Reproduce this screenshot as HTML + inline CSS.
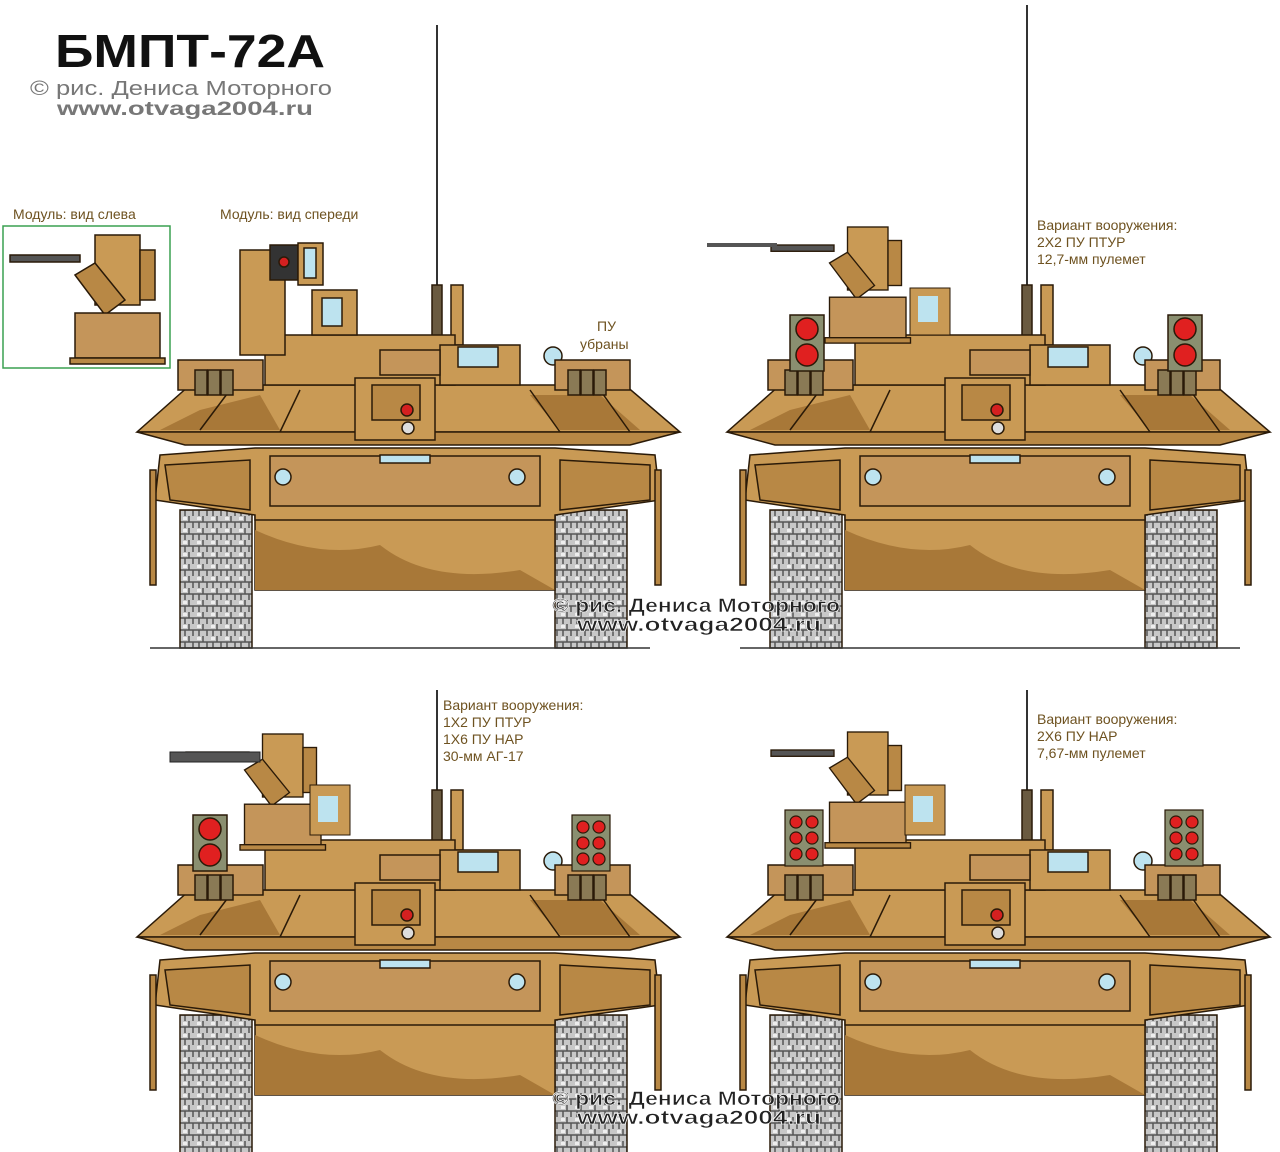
<!DOCTYPE html>
<html><head><meta charset="utf-8"><style>
html,body{margin:0;padding:0;background:#fff;}
svg{display:block;}
.lab{font-family:"Liberation Sans","DejaVu Sans",sans-serif;fill:#6e5220;font-size:14px;}
.wm{font-family:"Liberation Sans",sans-serif;font-weight:bold;font-size:19px;fill:#222;stroke:#fff;stroke-width:0.6;}
</style></head><body>
<svg width="1280" height="1152" viewBox="0 0 1280 1152" xmlns="http://www.w3.org/2000/svg">
<defs>
<pattern id="trk" width="14" height="12" patternUnits="userSpaceOnUse">
<rect width="14" height="12" fill="#c8c8c8"/>
<path d="M0 6H14M7 0V6M3 6V12M11 6V12" stroke="#555" stroke-width="1.5"/>
<rect x="1" y="1" width="4" height="3" fill="#eee"/>
</pattern>
<g id="tank" stroke="#2a1a08" stroke-width="1.5">
<rect x="432" y="285" width="10" height="75" fill="#6a5a40"/>
<rect x="451" y="285" width="12" height="60" fill="#c99a55"/>
<rect x="180" y="510" width="72" height="138" fill="url(#trk)"/>
<rect x="555" y="510" width="72" height="138" fill="url(#trk)"/>
<line x1="150" y1="648" x2="650" y2="648" stroke="#333"/>
<rect x="255" y="500" width="300" height="90" fill="#c99a55"/>
<path d="M255 530 Q320 560 380 545 Q430 585 520 570 L555 590 L255 590Z" fill="#a87838" stroke="none"/>
<path d="M160 455 L255 448 L555 448 L655 455 L660 500 L555 515 L555 520 L255 520 L255 515 L155 500Z" fill="#c99a55"/>
<path d="M165 465 L250 460 L250 510 L170 500Z M560 460 L650 465 L650 500 L560 510Z" fill="#b88845"/>
<rect x="270" y="456" width="270" height="50" fill="#c4955a"/>
<circle cx="283" cy="477" r="8" fill="#bde3ef"/><circle cx="517" cy="477" r="8" fill="#bde3ef"/>
<rect x="150" y="470" width="6" height="115" fill="#b88845"/><rect x="655" y="470" width="6" height="115" fill="#b88845"/>
<rect x="380" y="455" width="50" height="8" fill="#bde3ef"/>
<path d="M190 385 L625 385 L680 432 L137 432Z" fill="#c99a55"/>
<path d="M137 432 L680 432 L630 445 L185 445Z" fill="#b88845"/>
<path d="M530 395 L600 395 L640 430 L560 430Z M200 410 L260 395 L280 430 L160 430Z" fill="#a87838" stroke="none"/>
<path d="M200 430 L230 390 M280 432 L300 390 M530 390 L560 432 M600 390 L630 432" stroke="#2a1a08"/>
<rect x="265" y="335" width="190" height="50" fill="#c99a55"/>
<rect x="440" y="345" width="80" height="40" fill="#c99a55"/>
<rect x="458" y="347" width="40" height="20" fill="#bde3ef"/>
<circle cx="553" cy="356" r="9" fill="#bde3ef"/>
<rect x="380" y="350" width="60" height="25" fill="#c4955a"/>
<rect x="355" y="378" width="80" height="62" fill="#c99a55"/>
<rect x="372" y="385" width="48" height="35" fill="#b88845"/>
<circle cx="407" cy="410" r="6" fill="#d42020"/>
<circle cx="408" cy="428" r="6" fill="#ddd"/>
<rect x="178" y="360" width="85" height="30" fill="#c4955a"/>
<rect x="555" y="360" width="75" height="30" fill="#c4955a"/>
<g fill="#8a7a55"><rect x="195" y="370" width="12" height="25"/><rect x="208" y="370" width="12" height="25"/><rect x="221" y="370" width="12" height="25"/><rect x="568" y="370" width="12" height="25"/><rect x="581" y="370" width="12" height="25"/><rect x="594" y="370" width="12" height="25"/></g>
</g>
<g id="mod" stroke="#2a1a08" stroke-width="1.5">
<rect x="-60" y="0" width="70" height="7" fill="#555"/>
<rect x="25" y="-20" width="45" height="70" fill="#c99a55"/>
<rect x="70" y="-5" width="15" height="50" fill="#b88845"/>
<path d="M5 20 L35 60 L55 45 L25 8Z" fill="#b88845"/>
<rect x="5" y="58" width="85" height="45" fill="#c4955a"/>
<rect x="0" y="103" width="95" height="6" fill="#b88845"/>
</g>
<g id="ptur" stroke="#2a1a08" stroke-width="1.5"><rect x="0" y="0" width="34" height="56" fill="#8a8f70"/><circle cx="17" cy="14" r="11" fill="#e02020"/><circle cx="17" cy="40" r="11" fill="#e02020"/></g>
<g id="nar" stroke="#2a1a08" stroke-width="1.2"><rect x="0" y="0" width="38" height="56" fill="#8a8f70"/><g fill="#e02020"><circle cx="11" cy="12" r="6"/><circle cx="27" cy="12" r="6"/><circle cx="11" cy="28" r="6"/><circle cx="27" cy="28" r="6"/><circle cx="11" cy="44" r="6"/><circle cx="27" cy="44" r="6"/></g></g>
</defs>

<text x="55" y="67" font-family="Liberation Sans,sans-serif" font-size="46" font-weight="bold" fill="#111" textLength="270" lengthAdjust="spacingAndGlyphs">БМПТ-72А</text>
<text x="30" y="95" font-family="Liberation Sans,sans-serif" font-size="20" fill="#777" textLength="302" lengthAdjust="spacingAndGlyphs">© рис. Дениса Моторного</text>
<text x="57" y="115" font-family="Liberation Sans,sans-serif" font-size="19" font-weight="bold" fill="#777" textLength="256" lengthAdjust="spacingAndGlyphs">www.otvaga2004.ru</text>

<text class="lab" x="13" y="219">Модуль: вид слева</text>
<text class="lab" x="220" y="219">Модуль: вид спереди</text>
<rect x="3" y="226" width="167" height="142" fill="none" stroke="#3aa050" stroke-width="1.5"/>
<g transform="translate(70,255)"><use href="#mod"/></g>

<line x1="437" y1="25" x2="437" y2="290" stroke="#333" stroke-width="2"/>
<use href="#tank"/>
<g stroke="#2a1a08" stroke-width="1.5">
<rect x="240" y="250" width="45" height="105" fill="#c99a55"/>
<rect x="270" y="245" width="28" height="35" fill="#333"/><circle cx="284" cy="262" r="5" fill="#d42020"/>
<rect x="298" y="243" width="25" height="42" fill="#c99a55"/><rect x="304" y="248" width="12" height="30" fill="#bde3ef"/>
<rect x="312" y="290" width="45" height="45" fill="#c99a55"/><rect x="322" y="298" width="20" height="28" fill="#bde3ef"/>
</g>
<text class="lab" x="597" y="331" font-size="15">ПУ</text>
<text class="lab" x="580" y="349" font-size="15">убраны</text>

<line x1="1027" y1="5" x2="1027" y2="290" stroke="#333" stroke-width="2"/>
<g transform="translate(590,0)"><use href="#tank"/></g>
<g transform="translate(825,245) scale(0.9)"><use href="#mod"/></g>
<rect x="707" y="243" width="70" height="4" fill="#555"/>
<g transform="translate(790,315)"><use href="#ptur"/></g>
<g transform="translate(1168,315)"><use href="#ptur"/></g>
<rect x="910" y="288" width="40" height="47" fill="#c99a55" stroke="#2a1a08"/><rect x="918" y="296" width="20" height="26" fill="#bde3ef"/>
<text class="lab" x="1037" y="230">Вариант вооружения:</text>
<text class="lab" x="1037" y="247">2Х2 ПУ ПТУР</text>
<text class="lab" x="1037" y="264">12,7-мм пулемет</text>

<line x1="437" y1="690" x2="437" y2="795" stroke="#333" stroke-width="2"/>
<g transform="translate(0,505)"><use href="#tank"/></g>
<g transform="translate(240,752) scale(0.9)"><use href="#mod"/></g>
<rect x="170" y="752" width="90" height="10" fill="#555" stroke="#222"/>
<g transform="translate(193,815)"><use href="#ptur"/></g>
<g transform="translate(572,815)"><use href="#nar"/></g>
<rect x="310" y="785" width="40" height="50" fill="#c99a55" stroke="#2a1a08"/><rect x="318" y="796" width="20" height="26" fill="#bde3ef"/>
<text class="lab" x="443" y="710">Вариант вооружения:</text>
<text class="lab" x="443" y="727">1Х2 ПУ ПТУР</text>
<text class="lab" x="443" y="744">1Х6 ПУ НАР</text>
<text class="lab" x="443" y="761">30-мм АГ-17</text>

<line x1="1027" y1="690" x2="1027" y2="795" stroke="#333" stroke-width="2"/>
<g transform="translate(590,505)"><use href="#tank"/></g>
<g transform="translate(825,750) scale(0.9)"><use href="#mod"/></g>
<g transform="translate(785,810)"><use href="#nar"/></g>
<g transform="translate(1165,810)"><use href="#nar"/></g>
<rect x="905" y="785" width="40" height="50" fill="#c99a55" stroke="#2a1a08"/><rect x="913" y="796" width="20" height="26" fill="#bde3ef"/>
<text class="lab" x="1037" y="724">Вариант вооружения:</text>
<text class="lab" x="1037" y="741">2Х6 ПУ НАР</text>
<text class="lab" x="1037" y="758">7,67-мм пулемет</text>

<text class="wm" x="552" y="612" textLength="288" lengthAdjust="spacingAndGlyphs">© рис. Дениса Моторного</text>
<text class="wm" x="577" y="631" textLength="244" lengthAdjust="spacingAndGlyphs">www.otvaga2004.ru</text>
<text class="wm" x="552" y="1105" textLength="288" lengthAdjust="spacingAndGlyphs">© рис. Дениса Моторного</text>
<text class="wm" x="577" y="1124" textLength="244" lengthAdjust="spacingAndGlyphs">www.otvaga2004.ru</text>
</svg>
</body></html>
